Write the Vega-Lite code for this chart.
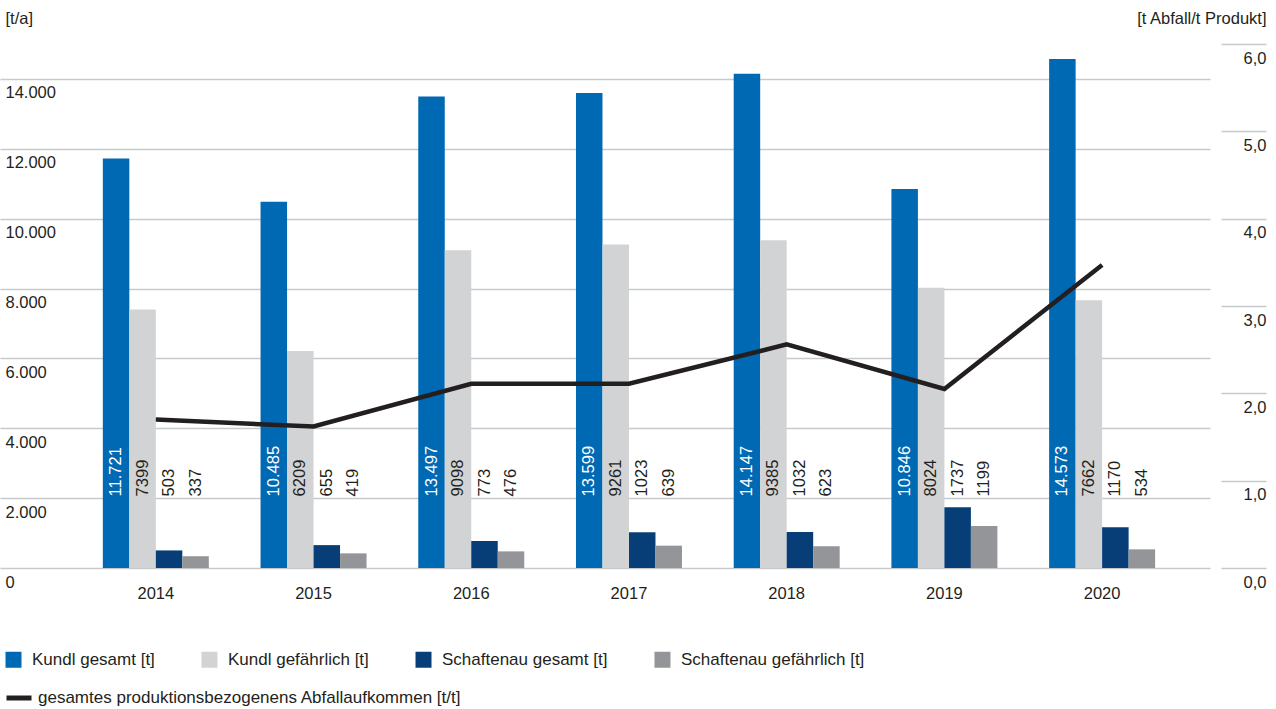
{
  "$schema": "https://vega.github.io/schema/vega-lite/v6.json",
  "autosize": {"type": "none"},
  "width": 1210,
  "height": 524,
  "padding": {"left": 0, "top": 44, "right": 66, "bottom": 141},
  "background": "white",
  "config": {
    "font": "Liberation Sans",
    "view": {"stroke": null},
    "axis": {"labelFont": "Liberation Sans", "labelColor": "#231f20", "titleFont": "Liberation Sans", "titleColor": "#231f20", "titleFontWeight": "normal"},
    "legend": {"labelFont": "Liberation Sans", "labelColor": "#231f20", "labelLimit": 0}
  },
  "datasets": {
    "abfall": [
      {"jahr": "2014", "site": "Kundl gesamt [t]", "value": 11721},
      {"jahr": "2014", "site": "Kundl gefährlich [t]", "value": 7399},
      {"jahr": "2014", "site": "Schaftenau gesamt [t]", "value": 503},
      {"jahr": "2014", "site": "Schaftenau gefährlich [t]", "value": 337},
      {"jahr": "2015", "site": "Kundl gesamt [t]", "value": 10485},
      {"jahr": "2015", "site": "Kundl gefährlich [t]", "value": 6209},
      {"jahr": "2015", "site": "Schaftenau gesamt [t]", "value": 655},
      {"jahr": "2015", "site": "Schaftenau gefährlich [t]", "value": 419},
      {"jahr": "2016", "site": "Kundl gesamt [t]", "value": 13497},
      {"jahr": "2016", "site": "Kundl gefährlich [t]", "value": 9098},
      {"jahr": "2016", "site": "Schaftenau gesamt [t]", "value": 773},
      {"jahr": "2016", "site": "Schaftenau gefährlich [t]", "value": 476},
      {"jahr": "2017", "site": "Kundl gesamt [t]", "value": 13599},
      {"jahr": "2017", "site": "Kundl gefährlich [t]", "value": 9261},
      {"jahr": "2017", "site": "Schaftenau gesamt [t]", "value": 1023},
      {"jahr": "2017", "site": "Schaftenau gefährlich [t]", "value": 639},
      {"jahr": "2018", "site": "Kundl gesamt [t]", "value": 14147},
      {"jahr": "2018", "site": "Kundl gefährlich [t]", "value": 9385},
      {"jahr": "2018", "site": "Schaftenau gesamt [t]", "value": 1032},
      {"jahr": "2018", "site": "Schaftenau gefährlich [t]", "value": 623},
      {"jahr": "2019", "site": "Kundl gesamt [t]", "value": 10846},
      {"jahr": "2019", "site": "Kundl gefährlich [t]", "value": 8024},
      {"jahr": "2019", "site": "Schaftenau gesamt [t]", "value": 1737},
      {"jahr": "2019", "site": "Schaftenau gefährlich [t]", "value": 1199},
      {"jahr": "2020", "site": "Kundl gesamt [t]", "value": 14573},
      {"jahr": "2020", "site": "Kundl gefährlich [t]", "value": 7662},
      {"jahr": "2020", "site": "Schaftenau gesamt [t]", "value": 1170},
      {"jahr": "2020", "site": "Schaftenau gefährlich [t]", "value": 534}
    ],
    "quote": [
      {"jahr": "2014", "ratio": 1.70},
      {"jahr": "2015", "ratio": 1.62},
      {"jahr": "2016", "ratio": 2.11},
      {"jahr": "2017", "ratio": 2.11},
      {"jahr": "2018", "ratio": 2.56},
      {"jahr": "2019", "ratio": 2.05},
      {"jahr": "2020", "ratio": 3.47}
    ]
  },
  "encoding": {
    "x": {
      "field": "jahr",
      "type": "nominal",
      "scale": {"paddingInner": 0.328, "paddingOuter": 0.5, "align": 0.652},
      "axis": {"title": null, "domain": false, "ticks": false, "grid": false, "labelAngle": 0, "labelPadding": 17, "labelFontSize": 16.5}
    }
  },
  "layer": [
    {
      "data": {"name": "abfall"},
      "encoding": {
        "xOffset": {
          "field": "site",
          "type": "nominal",
          "scale": {"domain": ["Kundl gesamt [t]", "Kundl gefährlich [t]", "Schaftenau gesamt [t]", "Schaftenau gefährlich [t]"], "paddingInner": 0, "paddingOuter": 0}
        }
      },
      "layer": [
        {
          "mark": {"type": "bar"},
          "encoding": {
            "y": {
              "field": "value",
              "type": "quantitative",
              "scale": {"domain": [0, 15000], "nice": false},
              "axis": {
                "orient": "left",
                "values": [0, 2000, 4000, 6000, 8000, 10000, 12000, 14000],
                "grid": true,
                "gridColor": "#c8c9cb",
                "gridWidth": 1.5,
                "domain": false,
                "ticks": false,
                "tickSize": 0,
                "labelAlign": "left",
                "labelBaseline": "top",
                "labelPadding": -5,
                "labelOffset": 6,
                "labelFontSize": 16.5,
                "labelExpr": "replace(format(datum.value, ','), ',', '.')",
                "title": "[t/a]",
                "titleAngle": 0,
                "titleAlign": "left",
                "titleBaseline": "middle",
                "titleFontSize": 16.5,
                "titleX": 5,
                "titleY": -26
              }
            },
            "color": {
              "field": "site",
              "type": "nominal",
              "scale": {
                "domain": ["Kundl gesamt [t]", "Kundl gefährlich [t]", "Schaftenau gesamt [t]", "Schaftenau gefährlich [t]"],
                "range": ["#0069b4", "#d1d3d4", "#073e78", "#939598"]
              },
              "legend": {
                "title": null,
                "orient": "none",
                "legendX": 5,
                "legendY": 607,
                "direction": "horizontal",
                "padding": 0,
                "symbolType": "square",
                "symbolSize": 256,
                "symbolStrokeWidth": 0,
                "symbolOpacity": 1,
                "labelFontSize": 17,
                "labelOffset": 10,
                "labelLimit": 0,
                "columnPadding": 46
              }
            }
          }
        },
        {
          "transform": [
            {"calculate": "datum.site == 'Kundl gesamt [t]' ? replace(format(datum.value, ','), ',', '.') : format(datum.value, 'd')", "as": "label"}
          ],
          "mark": {"type": "text", "angle": 270, "align": "left", "baseline": "middle", "fontSize": 16.5},
          "encoding": {
            "y": {"datum": 2050, "type": "quantitative"},
            "text": {"field": "label"},
            "color": {"condition": {"test": "datum.site == 'Kundl gesamt [t]'", "value": "#ffffff"}, "value": "#231f20"}
          }
        }
      ]
    },
    {
      "data": {"name": "quote"},
      "mark": {"type": "line", "strokeWidth": 4.5},
      "encoding": {
        "y": {
          "field": "ratio",
          "type": "quantitative",
          "scale": {"domain": [0, 6], "nice": false},
          "axis": {
            "orient": "right",
            "offset": 11,
            "values": [0, 1, 2, 3, 4, 5, 6],
            "grid": false,
            "domain": false,
            "ticks": true,
            "tickSize": 45,
            "tickColor": "#c8c9cb",
            "tickWidth": 1.5,
            "labelAlign": "right",
            "labelBaseline": "top",
            "labelPadding": 0,
            "labelOffset": 6,
            "labelFontSize": 16.5,
            "labelExpr": "replace(format(datum.value, '.1f'), '.', ',')",
            "title": "[t Abfall/t Produkt]",
            "titleAngle": 0,
            "titleAlign": "right",
            "titleBaseline": "middle",
            "titleFontSize": 16.5,
            "titleX": 45,
            "titleY": -26
          }
        },
        "stroke": {
          "datum": "gesamtes produktionsbezogenens Abfallaufkommen [t/t]",
          "scale": {"range": ["#231f20"]},
          "legend": {
            "title": null,
            "orient": "none",
            "legendX": 4,
            "legendY": 639,
            "padding": 0,
            "symbolType": "stroke",
            "symbolSize": 625,
            "symbolStrokeWidth": 5,
            "labelFontSize": 17,
            "labelOffset": 4,
            "labelLimit": 0
          }
        }
      }
    }
  ],
  "resolve": {"scale": {"y": "independent"}}
}
